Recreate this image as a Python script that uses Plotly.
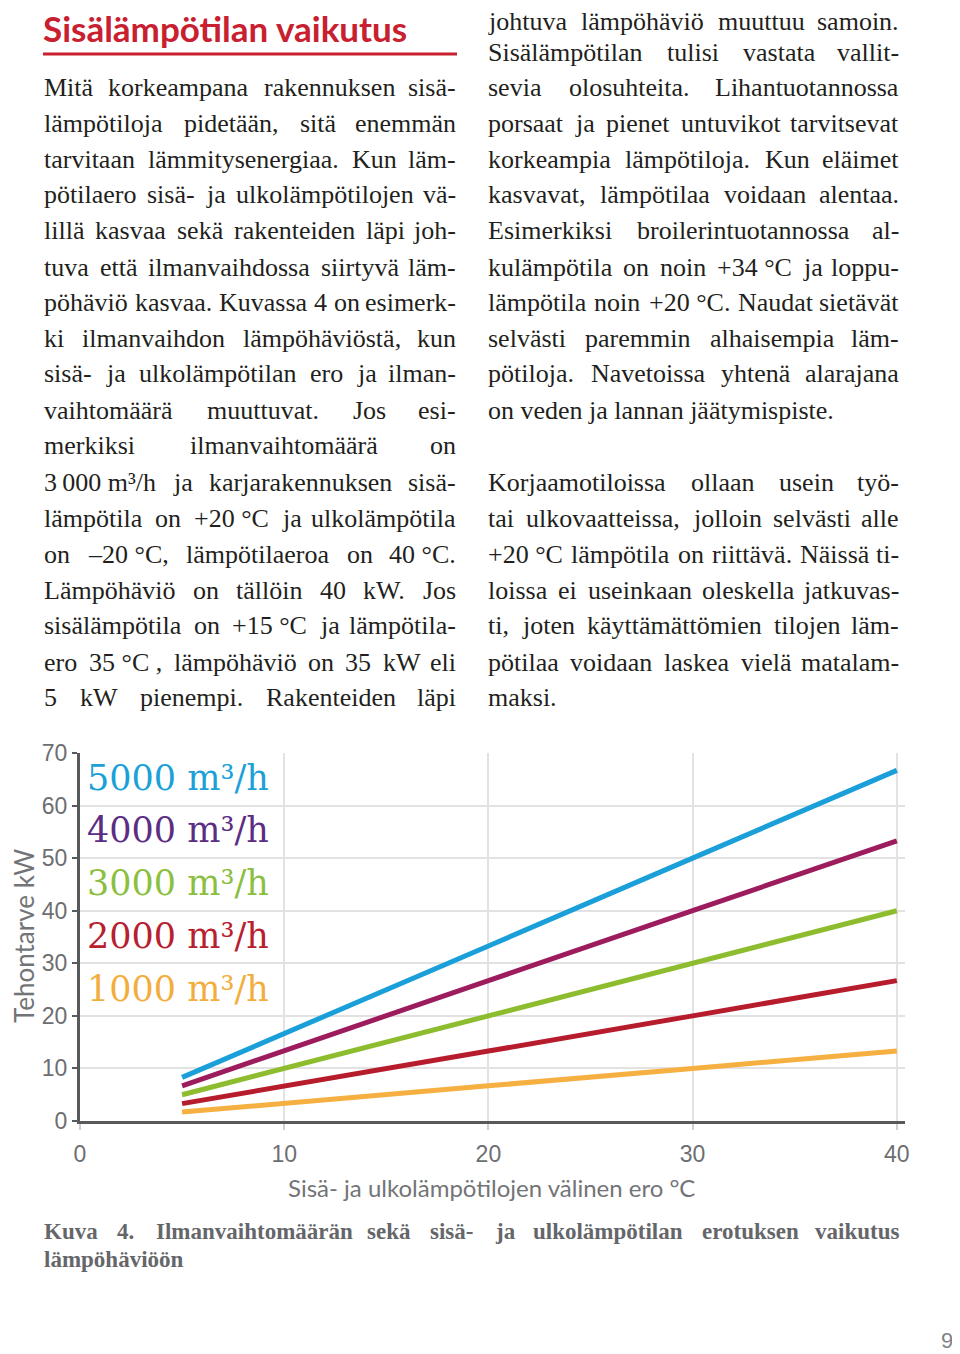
import plotly.graph_objects as go

# page is 960x1354; the html body adds an 8px margin, so the figure is placed at (8, 8)
PAGE_OFF = 8
W, H = 960 - PAGE_OFF, 1354 - PAGE_OFF

# ---------------- data ----------------
temp_diff = [5, 10, 20, 30, 40]
flow_labels = ["5000 m³/h", "4000 m³/h", "3000 m³/h", "2000 m³/h", "1000 m³/h"]
power_5000 = [8.3, 16.7, 33.3, 50.0, 66.7]
power_4000 = [6.7, 13.3, 26.7, 40.0, 53.3]
power_3000 = [5.0, 10.0, 20.0, 30.0, 40.0]
power_2000 = [3.3, 6.7, 13.3, 20.0, 26.7]
power_1000 = [1.7, 3.3, 6.7, 10.0, 13.3]
x_ticks = [0, 10, 20, 30, 40]
y_ticks = [0, 10, 20, 30, 40, 50, 60, 70]

title_text = "Sisälämpötilan vaikutus"
x_title = "Sisä- ja ulkolämpötilojen välinen ero °C"
y_title = "Tehontarve kW"
caption_lines = [
    ("Kuva 4. Ilmanvaihtomäärän sekä sisä- ja ulkolämpötilan erotuksen vaikutus", True),
    ("lämpöhäviöön", False),
]
left_lines = [
    ("Mitä korkeampana rakennuksen sisä-", True),
    ("lämpötiloja pidetään, sitä enemmän", True),
    ("tarvitaan lämmitysenergiaa. Kun läm-", True),
    ("pötilaero sisä- ja ulkolämpötilojen vä-", True),
    ("lillä kasvaa sekä rakenteiden läpi joh-", True),
    ("tuva että ilmanvaihdossa siirtyvä läm-", True),
    ("pöhäviö kasvaa. Kuvassa 4 on esimerk-", True),
    ("ki ilmanvaihdon lämpöhäviöstä, kun", True),
    ("sisä- ja ulkolämpötilan ero ja ilman-", True),
    ("vaihtomäärä muuttuvat. Jos esi-", True),
    ("merkiksi ilmanvaihtomäärä on", True),
    ("3\u2009000\u00a0m³/h ja karjarakennuksen sisä-", True),
    ("lämpötila on +20\u00a0°C ja ulkolämpötila", True),
    ("on –20\u00a0°C, lämpötilaeroa on 40\u00a0°C.", True),
    ("Lämpöhäviö on tällöin 40 kW. Jos", True),
    ("sisälämpötila on +15\u00a0°C ja lämpötila-", True),
    ("ero 35\u00a0°C\u00a0, lämpöhäviö on 35 kW eli", True),
    ("5 kW pienempi. Rakenteiden läpi", True),
]
left_rows = [87, 123, 159, 195, 231, 267, 302, 338, 374, 410, 446, 482, 518, 554, 590, 626, 662, 697]
right_lines = [
    ("johtuva lämpöhäviö muuttuu samoin.", True),
    ("Sisälämpötilan tulisi vastata vallit-", True),
    ("sevia olosuhteita. Lihantuotannossa", True),
    ("porsaat ja pienet untuvikot tarvitsevat", True),
    ("korkeampia lämpötiloja. Kun eläimet", True),
    ("kasvavat, lämpötilaa voidaan alentaa.", True),
    ("Esimerkiksi broilerintuotannossa al-", True),
    ("kulämpötila on noin +34\u00a0°C ja loppu-", True),
    ("lämpötila noin +20\u00a0°C. Naudat sietävät", True),
    ("selvästi paremmin alhaisempia läm-", True),
    ("pötiloja. Navetoissa yhtenä alarajana", True),
    ("on veden ja lannan jäätymispiste.", False),
    ("Korjaamotiloissa ollaan usein työ-", True),
    ("tai ulkovaatteissa, jolloin selvästi alle", True),
    ("+20\u00a0°C lämpötila on riittävä. Näissä ti-", True),
    ("loissa ei useinkaan oleskella jatkuvas-", True),
    ("ti, joten käyttämättömien tilojen läm-", True),
    ("pötilaa voidaan laskea vielä matalam-", True),
    ("maksi.", False),
]
right_rows = [22, 53, 87, 123, 159, 195, 231, 267, 302, 338, 374, 410, 482, 518, 554, 590, 626, 662, 697]

# ---------------- helpers ----------------
CW = {
    'a': .444, 'b': .5, 'c': .444, 'd': .5, 'e': .444, 'f': .333, 'g': .5, 'h': .5, 'i': .278,
    'j': .278, 'k': .5, 'l': .278, 'm': .778, 'n': .5, 'o': .5, 'p': .5, 'q': .5, 'r': .333,
    's': .389, 't': .278, 'u': .5, 'v': .5, 'w': .722, 'x': .5, 'y': .5, 'z': .444,
    'ä': .444, 'ö': .5, ' ': .25, '\u00a0': .25, '\u2009': .17, '.': .25, ',': .25, '-': .333,
    '°': .4, '+': .564, '–': .5, '/': .278, '³': .3, 'K': .722, 'M': .889, 'L': .611,
    'S': .556, 'J': .389, 'E': .611, 'N': .722, 'I': .333, 'W': .944, 'C': .667,
}


def tw(s, size, bold=False):
    w = 0.0
    for c in s:
        if c in CW:
            w += CW[c]
        elif c.isdigit():
            w += .5
        elif c.isupper():
            w += .7
        else:
            w += .5
    return w * size * (1.07 if bold else 1.0)


def px(x):
    return (x - PAGE_OFF) / W


def py(y):
    return 1 - (y - PAGE_OFF) / H


annotations = []


def add_line(text, x0, x1, yc, justify, font):
    words = text.split(' ')
    if not justify or len(words) == 1:
        annotations.append(dict(text=text, x=px(x0), y=py(yc), xref='paper', yref='paper',
                                xanchor='left', yanchor='middle', showarrow=False,
                                font=font, borderpad=0))
        return
    bold = font.get('weight') == 'bold'
    widths = [tw(w_, font['size'], bold) for w_ in words]
    gap = (x1 - x0 - sum(widths)) / (len(words) - 1)
    gap = max(gap, 0.18 * font['size'])
    xpos = x0
    for i, w_ in enumerate(words):
        if i == len(words) - 1:
            annotations.append(dict(text=w_, x=px(x1), y=py(yc), xref='paper', yref='paper',
                                    xanchor='right', yanchor='middle', showarrow=False,
                                    font=font, borderpad=0))
        else:
            annotations.append(dict(text=w_, x=px(xpos), y=py(yc), xref='paper', yref='paper',
                                    xanchor='left', yanchor='middle', showarrow=False,
                                    font=font, borderpad=0))
        xpos += widths[i] + gap


SANS = "Lato, Liberation Sans, sans-serif"

body_font = dict(family="Liberation Serif", size=26, color="#231f20")
for (t, j), r in zip(left_lines, left_rows):
    add_line(t, 43, 457, r, j, body_font)
for (t, j), r in zip(right_lines, right_rows):
    add_line(t, 487, 900, r, j, body_font)

cap_font = dict(family="Liberation Serif", size=23, color="#656669", weight='bold')
for (t, j), r in zip(caption_lines, [1231, 1259]):
    add_line(t, 43, 900, r, j, cap_font)

# title
annotations.append(dict(text="<b>" + title_text + "</b>", x=px(42), y=py(28), xref='paper', yref='paper',
                        xanchor='left', yanchor='middle', showarrow=False, borderpad=0,
                        font=dict(family=SANS, size=35, color="#c8202f")))

# series labels
label_colors = ["#1ba1d8", "#5b2d83", "#8cbf3f", "#b7202e", "#f2ae3c"]
label_rows = [778, 830, 883, 936, 989]
for lab, col, r in zip(flow_labels, label_colors, label_rows):
    annotations.append(dict(text=lab, x=px(86), y=py(r), xref='paper', yref='paper',
                            xanchor='left', yanchor='middle', showarrow=False, borderpad=0,
                            font=dict(family="DejaVu Serif", size=35, color=col)))

# axis titles
annotations.append(dict(text=y_title, x=px(24), y=py(936), xref='paper', yref='paper',
                        xanchor='center', yanchor='middle', showarrow=False, textangle=-90,
                        borderpad=0,
                        font=dict(family=SANS, size=26, color="#737477")))
annotations.append(dict(text=x_title, x=px(491), y=py(1187), xref='paper', yref='paper',
                        xanchor='center', yanchor='middle', showarrow=False,
                        font=dict(family=SANS, size=24, color="#737477")))
# page number
annotations.append(dict(text="9", x=px(947), y=py(1340), xref='paper', yref='paper',
                        xanchor='center', yanchor='middle', showarrow=False,
                        font=dict(family="Liberation Sans", size=22, color="#808285")))

# ---------------- figure ----------------
fig = go.Figure()
series = [
    (power_1000, "#f5b041"),
    (power_2000, "#b71c2c"),
    (power_3000, "#8dbd2f"),
    (power_4000, "#9c1c5e"),
    (power_5000, "#1a9fd9"),
]
for vals, col in series:
    fig.add_trace(go.Scatter(x=temp_diff, y=vals, mode='lines',
                             line=dict(color=col, width=5), showlegend=False,
                             hoverinfo='skip'))

fig.update_layout(
    width=W, height=H, autosize=False,
    margin=dict(l=0, r=0, t=0, b=0, pad=0, autoexpand=False),
    paper_bgcolor='white', plot_bgcolor='white',
    showlegend=False,
    annotations=annotations,
    shapes=[dict(type='line', xref='paper', yref='paper', x0=px(43), x1=px(457),
                 y0=py(54), y1=py(54), line=dict(color='#c8202f', width=3))],
    xaxis=dict(domain=[px(80), px(905)], range=[0, 40.4], tickvals=x_ticks,
               showgrid=True, gridcolor='#e2e2e2', gridwidth=2, zeroline=False,
               showline=True, linecolor='#58595b', linewidth=3,
               ticks='outside', ticklen=6, tickcolor='#cfcfcf', tickwidth=2,
               ticklabelstandoff=4, automargin=False,
               tickfont=dict(family="Liberation Sans", size=23, color="#6d6e71")),
    yaxis=dict(domain=[py(1121), py(753)], range=[0, 70], tickvals=y_ticks,
               showgrid=True, gridcolor='#e2e2e2', gridwidth=2, zeroline=False,
               showline=True, linecolor='#58595b', linewidth=3, automargin=False,
               ticks='outside', ticklen=5, tickcolor='#58595b', tickwidth=2,
               tickfont=dict(family="Liberation Sans", size=23, color="#6d6e71")),
)

fig.write_html("out.html")
